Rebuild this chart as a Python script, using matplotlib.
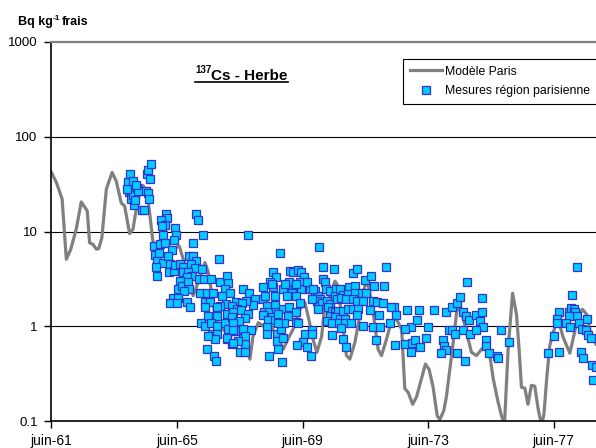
import matplotlib
matplotlib.use("Agg")
import matplotlib.pyplot as plt
from matplotlib.lines import Line2D
from matplotlib.ticker import NullLocator, FixedLocator

plt.rcParams['font.family'] = ['Liberation Sans', 'DejaVu Sans']

# ---------------- data ----------------
# x = months since June 1961
tick_months = [0, 48, 96, 144, 192]
tick_labels = ['juin-61', 'juin-65', 'juin-69', 'juin-73', 'juin-77']
y_ticks = [0.1, 1, 10, 100, 1000]
y_tick_labels = ['0.1', '1', '10', '100', '1000']

model_month = [0, 1.9, 4.1, 5.7, 7.4, 9.5, 11.4, 13.7, 14.6, 15.9,
               17.2, 18.1, 19.3, 21.0, 23.2, 24.8, 26.7, 28.0, 29.9, 31.2,
               32.3, 33.9, 34.9, 36.4, 37.4, 38.7, 39.6, 40.8, 42.8, 46.0,
               48.9, 50.4, 52.3, 54.2, 56.1, 58.7, 60.0, 61.3, 62.5, 64.4,
               66.3, 68.2, 70.8, 73.2, 75.9, 77.1, 79.1, 81.6, 83.5, 86.1,
               88.6, 90.4, 92.4, 95.0, 96.9, 98.4, 100.0, 101.5, 103.3, 104.5,
               106.5, 108.4, 109.6, 110.9, 112.8, 114.1, 116.0, 117.9, 119.8, 121.1,
               123.0, 124.9, 126.2, 128.1, 130.0, 131.9, 133.9, 135.1, 136.4, 138.1,
               139.6, 141.5, 143.0, 144.4, 145.9, 147.5, 148.5, 150.0, 151.0, 152.3,
               153.6, 154.9, 156.1, 157.2, 158.7, 160.6, 162.5, 164.4, 165.7, 166.9,
               168.9, 170.8, 172.1, 173.2, 174.6, 176.3, 177.8, 178.8, 179.7, 181.0,
               182.2, 183.5, 184.8, 186.1, 187.4, 188.3, 189.4, 190.5, 191.8, 193.7,
               195.6, 198.2, 199.4, 201.3, 203.0, 204.6, 206.2, 208.1]
model_value = [42, 33, 22, 5.1, 6.5, 10.6, 20.5, 16.5, 7.6, 7.3,
               6.5, 6.6, 8.6, 28, 42, 34, 20, 18.6, 9.5, 10.6,
               16.4, 26.6, 30.8, 26.6, 17.2, 8.3, 6.5, 5.1, 4.3, 6.5,
               7.0, 5.1, 3.4, 2.1, 2.9, 4.7, 3.7, 2.27, 1.28, 1.0,
               0.89, 0.79, 1.09, 0.69, 0.45, 0.79, 1.09, 0.98, 1.05, 0.79,
               0.57, 0.73, 0.93, 1.51, 1.78, 1.19, 0.73, 0.53, 0.78, 1.63,
               2.09, 3.0, 2.66, 1.28, 0.49, 0.45, 0.67, 1.28, 2.66, 2.77,
               1.40, 0.57, 0.49, 0.73, 1.14, 1.19, 0.93, 0.22, 0.20, 0.15,
               0.18, 0.28, 0.40, 0.35, 0.23, 0.113, 0.104, 0.128, 0.18, 0.35,
               0.67, 1.40, 1.78, 1.28, 0.86, 0.53, 0.49, 0.57, 0.62, 0.67,
               0.28, 0.157, 0.113, 0.09, 0.57, 2.23, 1.34, 0.57, 0.227, 0.222,
               0.150, 0.238, 0.233, 0.133, 0.09, 0.118, 0.29, 0.62, 0.86, 1.19,
               0.77, 0.52, 0.73, 1.24, 1.51, 1.34, 0.82, 0.65]

# measurements, by period
meas_month_1964 = [29.3, 29.7, 30.0, 30.6, 30.6, 31.2, 31.2, 31.6, 32.0, 32.7,
                   33.0, 34.6, 35.4, 36.0, 36.5, 36.9, 37.1, 37.3, 37.9, 37.7,
                   29.0, 32.3]
meas_value_1964 = [33, 26, 40, 27, 22, 34, 24, 19, 21.5, 29,
                   27, 17, 16.8, 27, 40, 25.5, 45, 22, 52, 36,
                   28, 31]

meas_month_1965 = [43.8, 44.3, 41.8, 43.4, 42.1, 47.2, 47.6, 46.8, 42.5, 55.1,
                   55.9, 57.8, 54.0, 64.0, 39.2, 41.5, 43.4, 46.0, 39.6, 41.2,
                   40.5, 42.5, 40.0, 40.5, 44.7, 45.3, 45.1, 46.8, 47.2, 49.1,
                   50.4, 50.4, 52.7, 54.2, 55.3, 53.2, 54.9, 57.4, 52.3, 53.6,
                   51.7, 49.1, 48.5, 49.8, 52.3, 52.7, 50.8, 46.6, 48.5, 45.3,
                   47.9, 51.7, 53.0, 56.5, 58.3, 60.9, 56.8, 59.3, 61.9, 58.8,
                   60.6, 64.4, 67.2, 67.6, 66.3, 68.2, 65.1, 66.7, 64.4, 58.7,
                   60.0, 63.2, 57.1, 58.7, 60.9, 63.2, 61.3, 63.4, 62.5, 67.6,
                   68.9, 67.2, 68.9, 59.3, 62.1, 62.9, 75.0,
                   63.2, 67.0, 66.3, 73.3, 67.6, 70.2, 60.0, 67.0, 73.3, 74.0]
meas_value_1965 = [15.2, 14.0, 13.1, 11.7, 11.5, 10.8, 9.2, 8.1, 9.2, 15.2,
                   13.1, 9.2, 7.5, 5.1, 7.0, 7.3, 7.6, 6.4, 5.6, 5.9,
                   4.9, 4.7, 4.2, 3.4, 5.5, 4.5, 3.7, 3.8, 4.4, 4.5,
                   4.2, 3.7, 5.5, 5.5, 4.9, 4.5, 4.1, 4.0, 3.7, 3.4,
                   3.3, 3.0, 2.46, 2.66, 2.9, 2.46, 2.36, 2.0, 2.0, 1.75,
                   1.78, 1.8, 1.58, 3.13, 3.13, 3.13, 2.27, 2.27, 2.23, 1.8,
                   1.8, 2.9, 3.4, 2.84, 2.46, 2.23, 2.09, 1.71, 1.64, 1.58,
                   1.28, 1.28, 1.09, 1.0, 1.09, 1.0, 0.82, 0.82, 0.73, 1.09,
                   0.89, 0.73, 0.65, 0.57, 0.49, 0.43, 9.2,
                   1.58, 1.34, 1.09, 0.93, 0.93, 0.89, 0.79, 0.76, 0.76, 0.65]

meas_month_1968 = [87.4, 102.4, 103.7, 84.6, 85.8, 83.5, 81.0, 84.8, 73.1, 75.6,
                   77.8, 77.1, 74.4, 70.5, 72.7, 68.9, 70.8, 72.3, 75.2, 69.5,
                   68.9, 74.0, 71.8, 69.5, 69.3, 76.2, 74.0, 71.4, 72.1, 74.0,
                   69.5, 81.0, 82.3, 81.2, 83.3, 85.4, 85.8, 81.0, 84.2, 82.9,
                   85.4, 82.3, 82.3, 86.1, 86.1, 87.6, 88.6, 86.7, 83.3, 88.0,
                   88.6, 90.9, 90.5, 93.7, 93.7, 88.9, 94.3, 91.2, 92.4, 94.3,
                   95.6, 96.5, 95.0, 97.6, 95.6, 90.9, 89.9, 88.6, 91.8, 93.7,
                   95.0, 89.9, 96.9, 96.3, 97.6, 99.1, 94.0, 99.5, 99.5, 98.8,
                   100.7, 102.0, 102.6, 101.4, 102.0, 103.7, 103.3, 102.0,
                   84.2, 89.2, 93.7, 97.6, 81.6, 85.4, 100.1, 99.5, 86.7, 86.7]
meas_value_1968 = [6.0, 6.9, 4.2, 3.7, 3.35, 2.93, 2.62, 2.62, 2.46, 2.27,
                   1.93, 1.67, 1.85, 1.8, 1.75, 1.64, 1.51, 1.49, 1.34, 1.4,
                   1.24, 1.21, 1.14, 1.09, 0.91, 0.91, 0.78, 0.70, 0.54, 0.53,
                   0.67, 1.93, 1.64, 1.40, 1.40, 1.67, 1.40, 1.31, 1.24, 1.17,
                   1.17, 0.99, 0.82, 0.82, 0.70, 0.93, 0.76, 0.58, 0.48, 0.42,
                   1.51, 1.58, 1.28, 1.40, 1.11, 1.08, 1.08, 3.8, 3.7, 3.9,
                   3.7, 3.35, 2.9, 2.46, 2.46, 2.9, 2.46, 2.46, 2.27, 2.09,
                   1.78, 2.09, 0.82, 0.68, 0.60, 0.49, 0.63, 0.91, 0.82, 2.46,
                   2.36, 2.09, 1.93, 1.85, 1.64, 3.13, 1.78, 1.51,
                   2.77, 2.77, 2.77, 2.9, 2.09, 2.09, 2.46, 1.93, 1.34, 1.09]

meas_month_1970 = [107.9, 104.5, 104.9, 106.5, 108.8, 108.4, 110.3, 111.3, 113.8, 116.0,
                   115.4, 116.7, 119.8, 122.0, 123.4, 128.1, 127.1, 105.2, 106.5, 109.0,
                   110.9, 113.4, 116.0, 118.6, 120.2, 112.8, 115.4, 116.9, 119.2, 123.0,
                   124.3, 126.8, 130.9, 130.0, 136.0, 131.9, 125.3, 121.7, 105.8, 107.1,
                   108.4, 109.6, 111.5, 113.4, 115.4, 117.3, 106.5, 108.4, 110.3, 112.2,
                   105.4, 107.1, 110.0, 112.2, 114.4, 110.9, 116.7, 119.0, 123.0, 125.6,
                   129.4, 137.3, 135.1, 107.3, 111.3, 112.6, 124.0, 131.3, 135.1, 137.7,
                   137.3]
meas_value_1970 = [4.0, 2.9, 2.46, 2.36, 2.46, 2.09, 2.46, 2.12, 2.62, 2.66,
                   3.62, 4.0, 3.08, 3.4, 2.66, 4.27, 2.66, 1.85, 1.71, 1.93,
                   2.0, 2.18, 2.27, 2.27, 2.27, 1.93, 1.93, 1.85, 1.85, 1.85,
                   1.8, 1.78, 1.6, 1.58, 1.49, 1.31, 1.31, 1.49, 1.58, 1.45,
                   1.40, 1.45, 1.45, 1.51, 1.51, 1.51, 1.28, 1.24, 1.19, 1.19,
                   1.14, 1.09, 1.08, 1.08, 1.08, 0.97, 1.31, 1.0, 0.99, 0.99,
                   1.08, 0.99, 0.93, 0.80, 0.73, 0.61, 0.72, 0.63, 0.65, 0.67,
                   0.53]

meas_month_1973 = [140.6, 146.2, 139.6, 144.0, 138.9, 143.1, 141.1, 149.7, 150.1, 150.8,
                   149.1, 151.0, 153.0, 155.1, 156.1, 158.9, 164.8, 157.2, 158.4, 159.7,
                   162.5, 164.0, 164.8, 165.0, 152.0, 153.3, 154.2, 157.2, 160.0, 162.2,
                   155.1, 158.0, 166.1, 166.1, 167.3, 170.2, 170.8, 171.7]
meas_value_1973 = [1.49, 1.49, 1.17, 0.99, 0.72, 0.76, 0.61, 0.72, 0.62, 0.56,
                   0.52, 1.42, 1.58, 1.75, 2.06, 2.9, 2.0, 1.42, 1.27, 1.17,
                   1.31, 1.14, 1.42, 0.99, 0.91, 0.91, 0.82, 0.91, 0.82, 0.91,
                   0.52, 0.43, 0.72, 0.62, 0.52, 0.49, 0.46, 0.91]

meas_month_1976 = [175.0, 201.0, 199.2, 194.1, 193.3, 193.3, 197.9, 198.8, 199.7, 200.1,
                   201.0, 197.9, 196.6, 198.2, 201.7, 204.8, 203.0, 204.3, 205.2, 206.1,
                   192.0, 189.9, 194.1, 202.3, 203.3, 206.5, 208.1, 207.1]
meas_value_1976 = [0.68, 4.2, 2.14, 1.42, 1.19, 1.08, 1.42, 1.54, 1.51, 1.40,
                   1.28, 1.28, 1.09, 0.99, 1.09, 1.19, 0.93, 0.91, 0.80, 0.76,
                   0.78, 0.52, 0.54, 0.54, 0.46, 0.39, 0.37, 0.27]

meas_month = (meas_month_1964 + meas_month_1965 + meas_month_1968 +
              meas_month_1970 + meas_month_1973 + meas_month_1976)
meas_value = (meas_value_1964 + meas_value_1965 + meas_value_1968 +
              meas_value_1970 + meas_value_1973 + meas_value_1976)

# ---------------- figure ----------------
W, H = 596, 448
fig = plt.figure(figsize=(W / 100, H / 100), dpi=100)
fig.patch.set_facecolor('white')

def fx(x):
    return x / W

def fy(y):
    return 1 - y / H

ax = fig.add_axes([fx(51.4), fy(421), 1 - fx(51.4), (421 - 42) / H])
ax.set_yscale('log')
ax.set_xlim(0, 208.2)
ax.set_ylim(0.1, 1000)

for v in [1, 10, 100]:
    ax.axhline(v, color='black', lw=0.8, zorder=1)

line_color = '#808080'
ax.plot(model_month, model_value, color=line_color, lw=2.3, zorder=2,
        solid_joinstyle='round')
ax.plot(meas_month, meas_value, linestyle='none', marker='s', markersize=5.2,
        markerfacecolor='#00CCFF', markeredgecolor='#3333CC',
        markeredgewidth=0.9, zorder=3)

ax.xaxis.set_major_locator(FixedLocator(tick_months))
ax.set_xticklabels(tick_labels)
ax.yaxis.set_major_locator(FixedLocator(y_ticks))
ax.set_yticklabels(y_tick_labels)
ax.yaxis.set_minor_locator(NullLocator())
ax.xaxis.set_minor_locator(NullLocator())
ax.tick_params(axis='x', direction='out', length=5, width=1, labelsize=10,
               pad=4, color='black')
ax.tick_params(axis='y', direction='out', length=5, width=1, labelsize=9.5,
               pad=5, color='black')

ax.spines['right'].set_visible(False)
ax.spines['top'].set_color(line_color)
ax.spines['top'].set_linewidth(1.6)
ax.spines['left'].set_linewidth(1.2)
ax.spines['bottom'].set_linewidth(1.2)

# legend
handles = [Line2D([], [], color=line_color, lw=2.3),
           Line2D([], [], linestyle='none', marker='s', markersize=5.2,
                  markerfacecolor='#00CCFF', markeredgecolor='#3333CC',
                  markeredgewidth=0.9)]
labels = ['Modèle Paris', 'Mesures région parisienne']
leg = ax.legend(handles, labels, loc='upper left',
                bbox_to_anchor=(fx(403), fy(59)), bbox_transform=fig.transFigure,
                frameon=True, fancybox=False, edgecolor='black', framealpha=1,
                fontsize=8.8, handlelength=2.6, handletextpad=0.3,
                borderpad=0.55, labelspacing=0.6, borderaxespad=0, numpoints=1)
leg.get_frame().set_linewidth(0.8)

# texts with superscripts
fig.canvas.draw()
r = fig.canvas.get_renderer()

t1 = fig.text(fx(18), fy(25), 'Bq kg', fontsize=9, fontweight='bold', va='baseline')
x1 = t1.get_window_extent(r).x1
t2 = fig.text(x1 / W, fy(20), '-1', fontsize=6, fontweight='bold', va='baseline')
x2 = t2.get_window_extent(r).x1
fig.text(x2 / W + 1.5 / W, fy(25), 'frais', fontsize=9, fontweight='bold', va='baseline')

s1 = fig.text(fx(195), fy(73), '137', fontsize=7, fontweight='bold', va='baseline')
sx = s1.get_window_extent(r).x1
s2 = fig.text(sx / W, fy(79.5), 'Cs - Herbe', fontsize=11, fontweight='bold', va='baseline')
ex = s2.get_window_extent(r).x1
fig.add_artist(Line2D([fx(195), ex / W], [fy(82), fy(82)], color='black', lw=1.2,
                      transform=fig.transFigure))

fig.savefig('out.png', dpi=100, facecolor='white')
